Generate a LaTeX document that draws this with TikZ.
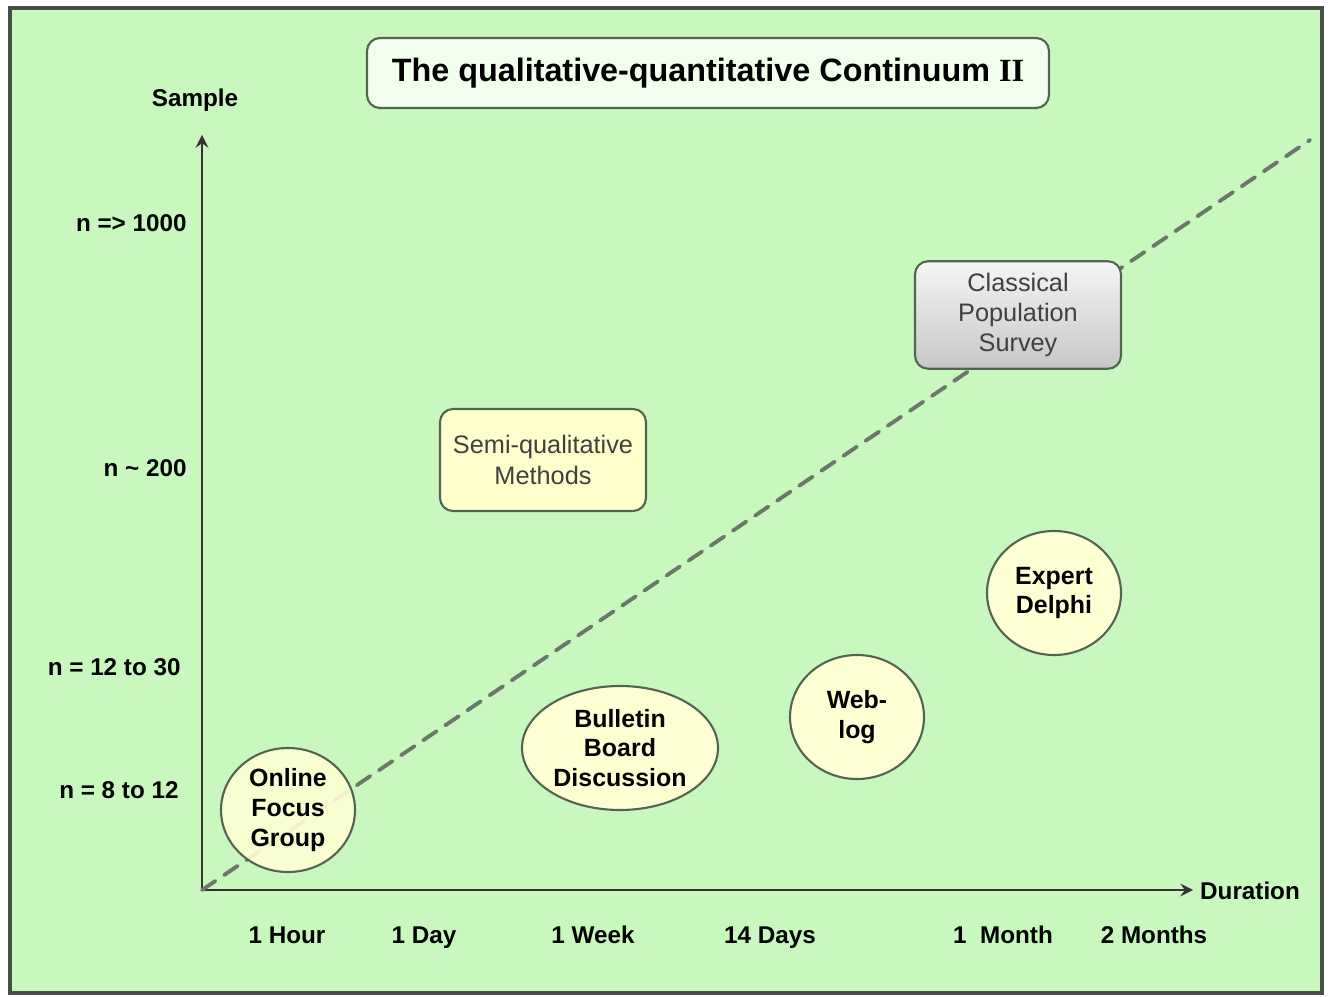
\documentclass[tikz,border=0pt]{standalone}
\usepackage{fontspec}
\setmainfont{Liberation Sans}
\newfontfamily\romanbf{Liberation Serif}
\usepackage{tikz}
\usepackage{tkz-euclide}
\usepackage{xcolor}
\usetikzlibrary{shapes.geometric}

\definecolor{chartgreen}{RGB}{200,248,190}
\definecolor{framegray}{RGB}{70,80,70}
\definecolor{edgegray}{RGB}{85,100,80}
\definecolor{paleyellow}{RGB}{255,255,212}
\definecolor{boxyellow}{RGB}{255,255,204}
\definecolor{titlefill}{RGB}{242,255,238}
\definecolor{trendgray}{RGB}{105,120,105}

\tikzset{
  axislabel/.style={font=\bfseries\fontsize{6.9}{8}\selectfont},
  method/.style={ellipse,draw=edgegray,line width=0.6pt,fill=paleyellow,
    minimum width=1.34cm,minimum height=1.24cm,inner sep=0pt,align=center,
    font=\bfseries\fontsize{7.1}{8.5}\selectfont},
  methodbox/.style={rectangle,rounded corners=0.13cm,draw=edgegray,line width=0.6pt,
    minimum width=2.06cm,minimum height=1.02cm,align=center,text=black!75,
    font=\fontsize{7.2}{8.6}\selectfont}
}

\begin{document}
\begin{tikzpicture}
    \useasboundingbox (0,0) rectangle (13.32,9.96);
    \draw[framegray,line width=0.9pt,fill=chartgreen] (0.10,0.03) rectangle (13.22,9.88);

    \tkzDefPoints{2.02/1.06/O,11.93/1.06/T,2.02/8.61/S,13.10/8.56/E}
    \tkzDrawSegments[black!80,line width=0.6pt,-stealth](O,T O,S)
    \tkzDrawSegment[trendgray,line width=1.1pt,dash pattern=on 4.6pt off 3pt](O,E)

    % title
    \node[rectangle,rounded corners=0.13cm,draw=edgegray,line width=0.6pt,fill=titlefill,
      minimum width=6.82cm,minimum height=0.70cm,font=\bfseries\fontsize{9.2}{11}\selectfont]
      (title) at (7.08,9.23) {The qualitative-quantitative Continuum {\romanbf II}};

    % axis names
    \node[axislabel] (sample) at (1.95,8.96) {Sample};
    \node[axislabel] (duration) at (12.50,1.05) {Duration};

    % sample sizes
    \node[axislabel,anchor=east] (n1000) at (1.99,7.73) {n => 1000};
    \node[axislabel,anchor=east] (n200) at (1.99,5.28) {n \textasciitilde{} 200};
    \node[axislabel,anchor=east] (n12) at (1.93,3.29) {n = 12 to 30};
    \node[axislabel,anchor=east] (n8) at (1.91,2.06) {n = 8 to 12};

    % durations
    \node[axislabel,anchor=base] (hour) at (2.87,0.53) {1 Hour};
    \node[axislabel,anchor=base] (day) at (4.24,0.53) {1 Day};
    \node[axislabel,anchor=base] (week) at (5.93,0.53) {1 Week};
    \node[axislabel,anchor=base] (days14) at (7.70,0.53) {14 Days};
    \node[axislabel,anchor=base] (month) at (10.03,0.53) {1\ \ Month};
    \node[axislabel,anchor=base] (months2) at (11.54,0.53) {2 Months};

    % methods
    \node[method,fill opacity=0.9,text opacity=1] (focus) at (2.88,1.86) {Online\\Focus\\Group};
    \node[method,minimum width=1.96cm] (bulletin) at (6.20,2.48) {Bulletin\\Board\\Discussion};
    \node[method] (weblog) at (8.57,2.79) {Web-\\log};
    \node[method] (delphi) at (10.54,4.03) {Expert\\Delphi};
    \node[methodbox,fill=boxyellow] (semi) at (5.43,5.36) {Semi-qualitative\\Methods};
    \node[methodbox,top color=black!4,bottom color=black!22,draw=edgegray] (survey) at (10.18,6.81)
      {Classical\\Population\\Survey};

\end{tikzpicture}
\end{document}
